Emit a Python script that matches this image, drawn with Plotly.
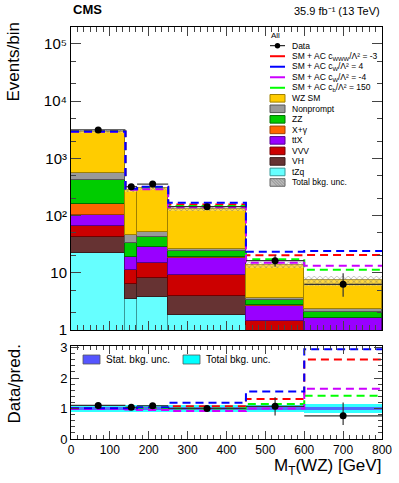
import plotly.graph_objects as go
from plotly.subplots import make_subplots

# binning of M_T(WZ) [GeV]
bin_edges = [0, 140, 170, 250, 450, 600, 800]

# stacked backgrounds (events per bin), bottom -> top
tzq = [22.5, 3.44, 3.82, 1.83, 0.3, 0.2]
vh = [20.3, 2.93, 4.38, 2.1, 0.3, 0.2]
vvv = [23.8, 4.83, 6.5, 5.2, 0.84, 0.3]
ttx = [34.4, 7.5, 13.2, 9.2, 1.22, 0.9]
xgamma = [56, 0.3, 0.3, 0.4, 0.1, 0.05]
zz = [262, 14.6, 13.3, 5.3, 0.6, 0.4]
nonprompt = [130, 11.6, 10.6, 2.4, 0.3, 0.3]
wz_sm = [2381, 235, 248, 103, 10.0, 5.1]
total_unc_frac = [0.05, 0.07, 0.07, 0.08, 0.12, 0.2]

data_y = [3150, 320, 355, 143, 16.3, 6.3]
data_err_up = [56, 18, 19, 12, 4.1, 3.5]
data_err_dn = [56, 18, 19, 12, 3.5, 2.5]

# SM + anomalous coupling predictions
ac_cwww_m3 = [2950, 292, 315, 157, 20.2, 20.5]
ac_cw_p4 = [2950, 295, 320, 168, 23.4, 24.0]
ac_cw_m4 = [2930, 283, 290, 140, 15.0, 13.3]
ac_cb_150 = [2940, 290, 308, 147, 17.2, 11.3]

# ratio panel
ratio_data = [1.10, 1.04, 1.09, 1.0, 1.07, 0.76]
ratio_err_up = [0.03, 0.06, 0.06, 0.08, 0.3, 0.44]
ratio_err_dn = [0.03, 0.06, 0.06, 0.08, 0.3, 0.3]
ratio_cwww_m3 = [1.0, 1.0, 1.02, 1.07, 1.31, 2.61]
ratio_cw_p4 = [1.01, 1.01, 1.04, 1.19, 1.56, 2.94]
ratio_cw_m4 = [0.98, 0.97, 0.95, 0.92, 1.0, 1.65]
ratio_cb_150 = [0.98, 0.99, 1.0, 1.0, 1.15, 1.42]
ratio_stat_unc = [0.04, 0.05, 0.05, 0.05, 0.05, 0.06]
ratio_total_unc = [0.12, 0.12, 0.12, 0.13, 0.13, 0.16]

centers = [(a + b) / 2 for a, b in zip(bin_edges[:-1], bin_edges[1:])]
widths = [b - a for a, b in zip(bin_edges[:-1], bin_edges[1:])]
half = [w / 2 for w in widths]

FONT = "Liberation Sans, Arial, sans-serif"

fig = make_subplots(rows=2, cols=1, shared_xaxes=False)

stack = [
    ("tZq", tzq, "#66ffff", "#3a9a9a"),
    ("VH", vh, "#663333", "#3a1d1d"),
    ("VVV", vvv, "#cc0000", "#700000"),
    ("ttX", ttx, "#9900ff", "#55008d"),
    ("X+γ", xgamma, "#ff6600", "#a04000"),
    ("ZZ", zz, "#00cc00", "#007000"),
    ("Nonprompt", nonprompt, "#999999", "#555555"),
    ("WZ SM", wz_sm, "#ffcc00", "#a08000"),
]
for name, vals, col, lcol in stack:
    fig.add_trace(go.Bar(x=centers, y=vals, width=widths, name=name,
                         marker=dict(color=col, line=dict(color=lcol, width=1)),
                         showlegend=False), row=1, col=1)

total = [sum(v[i] for _, v, _, _ in stack) for i in range(len(centers))]
unc_lo = [t * (1 - f) for t, f in zip(total, total_unc_frac)]
unc_h = [2 * t * f for t, f in zip(total, total_unc_frac)]
fig.add_trace(go.Bar(x=centers, y=unc_h, base=unc_lo, width=widths,
                     marker=dict(color="rgba(0,0,0,0)", line=dict(width=0),
                                 pattern=dict(shape="x", fgcolor="#666666", size=4,
                                              solidity=0.35, bgcolor="rgba(255,255,255,0.25)")),
                     showlegend=False), row=1, col=1)


def step(vals):
    return bin_edges, list(vals) + [vals[-1]]


ac_lines = [
    (ac_cwww_m3, ratio_cwww_m3, "#ff0000"),
    (ac_cb_150, ratio_cb_150, "#00ff00"),
    (ac_cw_m4, ratio_cw_m4, "#cc00ff"),
    (ac_cw_p4, ratio_cw_p4, "#0000ff"),
]
for main_vals, rat_vals, col in ac_lines:
    xs, ys = step(main_vals)
    fig.add_trace(go.Scatter(x=xs, y=ys, mode="lines", line_shape="hv",
                             line=dict(color=col, width=2, dash="8px,5px"),
                             showlegend=False), row=1, col=1)

fig.add_trace(go.Scatter(x=centers, y=data_y, mode="markers",
                         marker=dict(color="black", size=7),
                         error_y=dict(type="data", array=data_err_up, arrayminus=data_err_dn,
                                      color="#333333", thickness=1.2, width=0),
                         error_x=dict(type="data", array=half, color="#333333", thickness=1.2, width=0),
                         showlegend=False), row=1, col=1)

# ratio panel bands
fig.add_trace(go.Bar(x=centers, y=[2 * u for u in ratio_total_unc], base=[1 - u for u in ratio_total_unc],
                     width=widths, marker=dict(color="#00ffff", line=dict(width=0)), opacity=0.8,
                     showlegend=False), row=2, col=1)
fig.add_trace(go.Bar(x=centers, y=[2 * u for u in ratio_stat_unc], base=[1 - u for u in ratio_stat_unc],
                     width=widths, marker=dict(color="#5555ff", line=dict(width=0)), opacity=0.85,
                     showlegend=False), row=2, col=1)
for main_vals, rat_vals, col in ac_lines:
    xs, ys = step(rat_vals)
    fig.add_trace(go.Scatter(x=xs, y=ys, mode="lines", line_shape="hv",
                             line=dict(color=col, width=2, dash="8px,5px"),
                             showlegend=False), row=2, col=1)
fig.add_trace(go.Scatter(x=centers, y=ratio_data, mode="markers",
                         marker=dict(color="black", size=7),
                         error_y=dict(type="data", array=ratio_err_up, arrayminus=ratio_err_dn,
                                      color="#333333", thickness=1.2, width=0),
                         error_x=dict(type="data", array=half, color="#333333", thickness=1.2, width=0),
                         showlegend=False), row=2, col=1)

# page geometry (pixels) -> paper coordinates
L, R, T, B = 71, 382, 27, 439


def px(x):
    return (x - L) / (R - L)


def py(y):
    return (B - y) / (B - T)


axis_common = dict(showline=True, linecolor="black", linewidth=1, mirror="ticks",
                   ticks="inside", showgrid=False, zeroline=False, automargin=False,
                   tickfont=dict(family=FONT, size=12, color="black"))

fig.update_xaxes(range=[0, 800], dtick=100, ticklen=9, showticklabels=False,
                 minor=dict(ticks="inside", ticklen=5, dtick=100 / 6), **axis_common, row=1, col=1)
fig.update_xaxes(range=[0, 800], dtick=100, ticklen=8,
                 minor=dict(ticks="inside", ticklen=4, dtick=100 / 6), **axis_common, row=2, col=1)
fig.update_yaxes(type="log", range=[0, 5.297], ticklen=10,
                 tickvals=[1, 10, 100, 1000, 10000, 100000],
                 ticktext=["1", "10", "10²", "10³", "10⁴", "10⁵"],
                 minor=dict(ticks="inside", ticklen=5, showgrid=False),
                 **{**axis_common, "tickfont": dict(family=FONT, size=15, color="black")}, row=1, col=1)
fig.update_yaxes(range=[0, 3.05], tickvals=[0, 1, 2, 3], ticklen=8,
                 minor=dict(ticks="inside", ticklen=4, dtick=0.2),
                 **{**axis_common, "tickfont": dict(family=FONT, size=13, color="black")}, row=2, col=1)

fig.update_layout(
    width=399, height=483,
    margin=dict(l=L, r=399 - R, t=T, b=483 - B, autoexpand=False),
    paper_bgcolor="white", plot_bgcolor="white",
    barmode="stack", bargap=0,
    showlegend=False,
    font=dict(family=FONT, size=12, color="black"),
    xaxis=dict(domain=[0, 1], anchor="y"),
    yaxis=dict(domain=[py(330), 1]),
    xaxis2=dict(domain=[0, 1], anchor="y2"),
    yaxis2=dict(domain=[0, py(346)]),
)

annotations = [
    dict(x=px(71), y=py(10), text="<b>CMS</b>", xanchor="left", yanchor="middle", size=13),
    dict(x=px(382), y=py(11), text="35.9 fb⁻¹ (13 TeV)", xanchor="right", yanchor="middle", size=11),
    dict(x=px(13), y=py(21), text="Events/bin", textangle=-90, xanchor="center", yanchor="top", size=17),
    dict(x=px(14), y=py(343), text="Data/pred.", textangle=-90, xanchor="center", yanchor="top", size=17),
    dict(x=px(383), y=py(467), text="M<sub>T</sub>(WZ) [GeV]", xanchor="right", yanchor="middle", size=17),
    dict(x=px(269), y=py(35), text="All", xanchor="left", yanchor="middle", size=8),
]

# legend, drawn by hand to keep ROOT's compact row spacing
legend_entries = [
    ("Data", "data", "black"),
    ("SM + AC c<sub>WWW</sub>/Λ² = -3", "line", "#ff0000"),
    ("SM + AC c<sub>W</sub>/Λ² = 4", "line", "#0000ff"),
    ("SM + AC c<sub>W</sub>/Λ² = -4", "line", "#cc00ff"),
    ("SM + AC c<sub>b</sub>/Λ² = 150", "line", "#00ff00"),
] + [(name, "box", col) for name, _, col, _ in reversed(stack)] + [
    ("Total bkg. unc.", "hatch", "#bbbbbb"),
]
box_line = {name: lcol for name, _, _, lcol in stack}

shapes = []
row0, dy = 45.7, 10.52
for i, (label, kind, col) in enumerate(legend_entries):
    yc = row0 + i * dy
    if kind == "data":
        shapes.append(dict(type="line", x0=px(270), x1=px(285), y0=py(yc), y1=py(yc),
                           line=dict(color="black", width=1)))
        shapes.append(dict(type="circle", x0=px(274.8), x1=px(280.2), y0=py(yc + 2.7), y1=py(yc - 2.7),
                           fillcolor="black", line=dict(color="black", width=0)))
    elif kind == "line":
        shapes.append(dict(type="line", x0=px(270), x1=px(285), y0=py(yc), y1=py(yc),
                           line=dict(color=col, width=2)))
    elif kind == "box":
        shapes.append(dict(type="rect", x0=px(270), x1=px(285), y0=py(yc + 3.8), y1=py(yc - 3.8),
                           fillcolor=col, line=dict(color=box_line.get(label, "#444"), width=1)))
    else:
        shapes.append(dict(type="rect", x0=px(270), x1=px(285), y0=py(yc + 3.8), y1=py(yc - 3.8),
                           fillcolor=col, line=dict(color="#666666", width=1)))
        path = ""
        for k in range(0, 16, 3):
            path += f"M{px(270 + k)},{py(yc - 3.8)} L{px(min(285, 270 + k + 7.6))},{py(yc + 3.8 - max(0, 270 + k + 7.6 - 285))} "
        shapes.append(dict(type="path", path=path, line=dict(color="#777777", width=0.6)))
    annotations.append(dict(x=px(290), y=py(yc), text=label, xanchor="left", yanchor="middle", size=8.5))

# ratio panel legend
for x0, label, col in [(83, "Stat. bkg. unc.", "#5555ff"), (183, "Total bkg. unc.", "#00ffff")]:
    shapes.append(dict(type="rect", x0=px(x0), x1=px(x0 + 17), y0=py(364), y1=py(355),
                       fillcolor=col, line=dict(color="#555555", width=0.8)))
    annotations.append(dict(x=px(x0 + 21), y=py(359.5), text=label, xanchor="left", yanchor="middle",
                            size=10))

final_ann = []
for a in annotations:
    size = a.pop("size")
    a.update(xref="paper", yref="paper", showarrow=False,
             font=dict(family=FONT, size=size, color="black"))
    final_ann.append(a)
for s in shapes:
    s.update(xref="paper", yref="paper")
fig.update_layout(annotations=final_ann, shapes=shapes)

# the browser's default 8px body margin would shift the whole figure
fig.write_html("out.html", config={"displayModeBar": False},
               post_script="document.body.style.margin='0px';")
